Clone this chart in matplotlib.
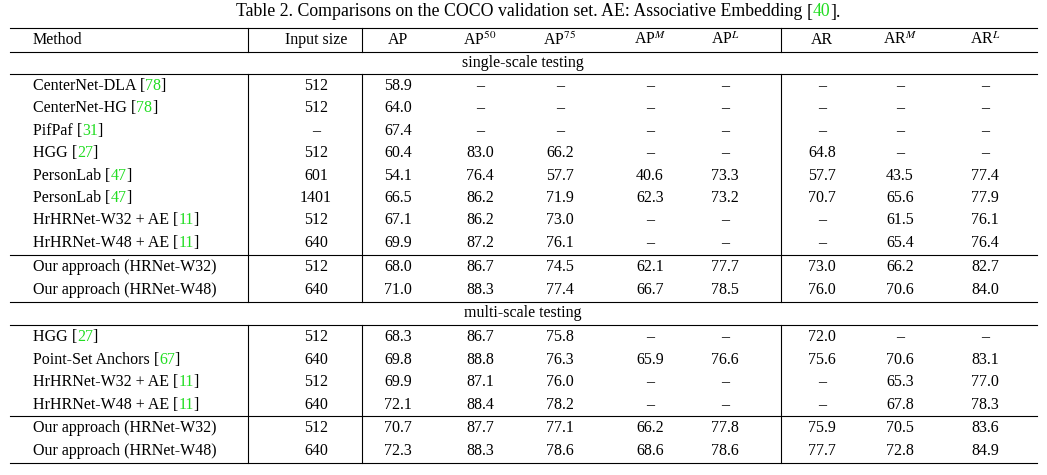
import matplotlib
matplotlib.use("Agg")
import matplotlib.pyplot as plt

plt.rcParams['font.family'] = ['Liberation Serif', 'DejaVu Serif']
plt.rcParams['mathtext.fontset'] = 'stix'

GREEN = "#22dd22"
D = "–"

headers = ["Input size", "AP", "AP$^{50}$", "AP$^{75}$", "AP$^{M}$", "AP$^{L}$", "AR", "AR$^{M}$", "AR$^{L}$"]

single_methods = [("CenterNet-DLA ", "78"), ("CenterNet-HG ", "78"), ("PifPaf ", "31"), ("HGG ", "27"),
                  ("PersonLab ", "47"), ("PersonLab ", "47"), ("HrHRNet-W32 + AE ", "11"), ("HrHRNet-W48 + AE ", "11")]
single_vals = [
    ["512", "58.9", D, D, D, D, D, D, D],
    ["512", "64.0", D, D, D, D, D, D, D],
    [D, "67.4", D, D, D, D, D, D, D],
    ["512", "60.4", "83.0", "66.2", D, D, "64.8", D, D],
    ["601", "54.1", "76.4", "57.7", "40.6", "73.3", "57.7", "43.5", "77.4"],
    ["1401", "66.5", "86.2", "71.9", "62.3", "73.2", "70.7", "65.6", "77.9"],
    ["512", "67.1", "86.2", "73.0", D, D, D, "61.5", "76.1"],
    ["640", "69.9", "87.2", "76.1", D, D, D, "65.4", "76.4"],
]
ours_single = [
    ["512", "68.0", "86.7", "74.5", "62.1", "77.7", "73.0", "66.2", "82.7"],
    ["640", "71.0", "88.3", "77.4", "66.7", "78.5", "76.0", "70.6", "84.0"],
]
multi_methods = [("HGG ", "27"), ("Point-Set Anchors ", "67"), ("HrHRNet-W32 + AE ", "11"), ("HrHRNet-W48 + AE ", "11")]
multi_vals = [
    ["512", "68.3", "86.7", "75.8", D, D, "72.0", D, D],
    ["640", "69.8", "88.8", "76.3", "65.9", "76.6", "75.6", "70.6", "83.1"],
    ["512", "69.9", "87.1", "76.0", D, D, D, "65.3", "77.0"],
    ["640", "72.1", "88.4", "78.2", D, D, D, "67.8", "78.3"],
]
ours_multi = [
    ["512", "70.7", "87.7", "77.1", "66.2", "77.8", "75.9", "70.5", "83.6"],
    ["640", "72.3", "88.3", "78.6", "68.6", "78.6", "77.7", "72.8", "84.9"],
]
ours_names = ["Our approach (HRNet-W32)", "Our approach (HRNet-W48)"]

col_x = [316, 398, 480, 560, 650, 725, 822, 900, 985]
X0, X1 = 10, 1037
FS = 11.5

fig = plt.figure(figsize=(10.47, 4.75), dpi=100)
ax = fig.add_axes([0, 0, 1, 1])
ax.set_xlim(0, 1047); ax.set_ylim(475, 0); ax.axis("off")
r = fig.canvas.get_renderer()

def cite(x, y, pre, num, post="", fs=FS):
    t = ax.text(x, y, pre, fontsize=fs, va="center", ha="left")
    xe = ax.transData.inverted().transform(t.get_window_extent(r).corners()[-1])[0]
    for s, c in [("[", "k"), (num, GREEN), ("]" + post, "k")]:
        t = ax.text(xe, y, s, fontsize=fs, va="center", ha="left", color=c)
        xe = ax.transData.inverted().transform(t.get_window_extent(r).corners()[-1])[0]

cite(236, 12, "Table 2. Comparisons on the COCO validation set. AE: Associative Embedding ", "40", ".", fs=12.8)

def hline(y):
    ax.plot([X0, X1], [y, y], color="k", lw=0.8)

def row(y, vals):
    for x, v in zip(col_x, vals):
        ax.text(x, y, v, fontsize=FS, va="center", ha="center")

hline(28)
ax.text(33, 40, "Method", fontsize=FS, va="center")
row(40, headers)
hline(52)
ax.text(523, 63, "single-scale testing", fontsize=FS, va="center", ha="center")
hline(74)
y = 86
for (n, c), v in zip(single_methods, single_vals):
    cite(33, y, n, c); row(y, v); y += 22.4
hline(255)
for n, v, yy in zip(ours_names, ours_single, [267, 290]):
    ax.text(33, yy, n, fontsize=FS, va="center"); row(yy, v)
hline(302)
ax.text(523, 313, "multi-scale testing", fontsize=FS, va="center", ha="center")
hline(325)
y = 337
for (n, c), v in zip(multi_methods, multi_vals):
    cite(33, y, n, c); row(y, v); y += 22.6
hline(416)
for n, v, yy in zip(ours_names, ours_multi, [428, 451]):
    ax.text(33, yy, n, fontsize=FS, va="center"); row(yy, v)
hline(463)

for x in [248, 362, 781]:
    for y0, y1 in [(28, 52), (74, 302), (325, 463)]:
        ax.plot([x, x], [y0, y1], color="k", lw=0.8)

fig.savefig("out.png", dpi=100)
